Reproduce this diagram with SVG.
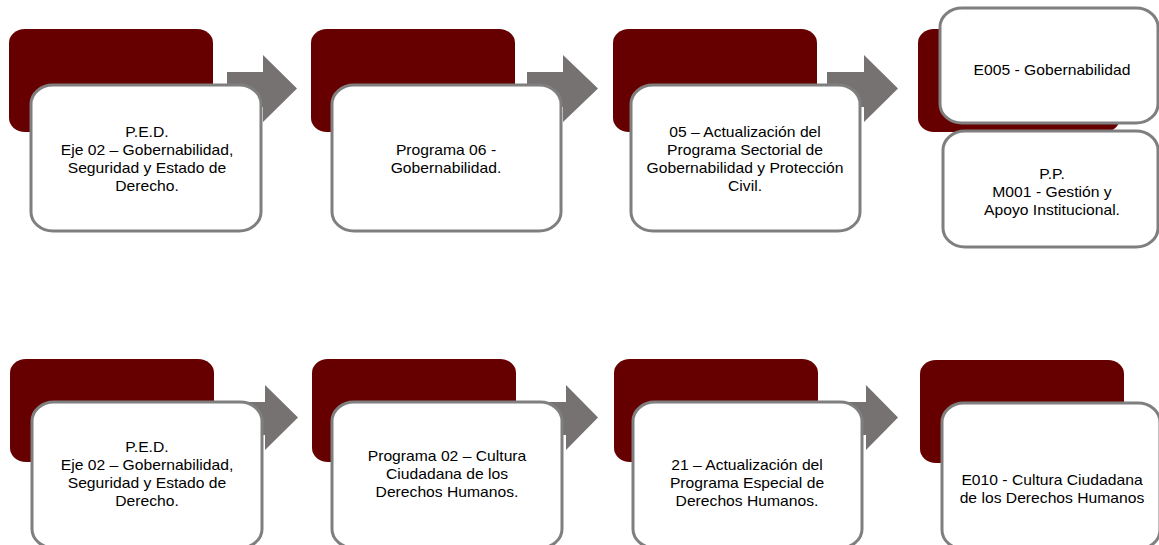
<svg xmlns="http://www.w3.org/2000/svg" width="1159" height="545" viewBox="0 0 1159 545">
<style>
.dark{fill:#660000;}
.box{fill:#ffffff;stroke:#7f7f7f;stroke-width:3;}
.arr{fill:#777272;}
.t{font-family:"Liberation Sans",Arial,sans-serif;font-size:14px;fill:#000000;text-anchor:middle;}
</style>
<rect width="1159" height="545" fill="#ffffff"/>
<g id="connectors">
<polygon class="arr" points="227,72 263,72 263,55 297,88.5 263,122 263,107 227,107"/>
<polygon class="arr" points="527,72 563,72 563,55 598,88.5 563,122 563,107 527,107"/>
<polygon class="arr" points="827,72 864,72 864,55 898,88.5 864,122 864,107 827,107"/>
<polygon class="arr" points="229,402 265,402 265,385 298,417.5 265,450 265,435 229,435"/>
<polygon class="arr" points="530,402 566,402 566,385 598,417.5 566,450 566,435 530,435"/>
<polygon class="arr" points="828,402 866,402 866,385 898,417.5 866,450 866,435 828,435"/>
</g>
<g id="n1">
<rect class="dark" x="9" y="29" width="204" height="103" rx="16" ry="14"/>
<rect class="box" x="31" y="85" width="230" height="146" rx="22" ry="19"/>
<text class="t" transform="translate(147,0) scale(1.12,1)"><tspan x="0" y="137">P.E.D.</tspan><tspan x="0" y="155">Eje 02 – Gobernabilidad,</tspan><tspan x="0" y="173">Seguridad y Estado de</tspan><tspan x="0" y="191">Derecho.</tspan></text>
</g>
<g id="n2">
<rect class="dark" x="311" y="29" width="204" height="103" rx="16" ry="14"/>
<rect class="box" x="332" y="85" width="229" height="146" rx="22" ry="19"/>
<text class="t" transform="translate(446,0) scale(1.12,1)"><tspan x="0" y="155">Programa 06 -</tspan><tspan x="0" y="173">Gobernabilidad.</tspan></text>
</g>
<g id="n3">
<rect class="dark" x="613" y="29" width="204" height="103" rx="16" ry="14"/>
<rect class="box" x="631" y="85" width="229" height="146" rx="22" ry="19"/>
<text class="t" transform="translate(745,0) scale(1.12,1)"><tspan x="0" y="137">05 – Actualización del</tspan><tspan x="0" y="155">Programa Sectorial de</tspan><tspan x="0" y="173">Gobernabilidad y Protección</tspan><tspan x="0" y="191">Civil.</tspan></text>
</g>
<g id="n4">
<rect class="dark" x="918" y="29" width="202" height="103" rx="16" ry="14"/>
<rect class="box" x="940" y="8" width="218" height="115" rx="22" ry="19"/>
<text class="t" transform="translate(1052,0) scale(1.12,1)"><tspan x="0" y="75">E005 - Gobernabilidad</tspan></text>
</g>
<g id="n5">
<rect class="box" x="943" y="131" width="215" height="116" rx="22" ry="19"/>
<text class="t" transform="translate(1052,0) scale(1.12,1)"><tspan x="0" y="179">P.P.</tspan><tspan x="0" y="197">M001 - Gestión y</tspan><tspan x="0" y="215">Apoyo Institucional.</tspan></text>
</g>
<g id="n6">
<rect class="dark" x="10" y="359" width="204" height="103" rx="16" ry="14"/>
<rect class="box" x="32" y="402" width="230" height="146" rx="22" ry="19"/>
<text class="t" transform="translate(147,0) scale(1.12,1)"><tspan x="0" y="452">P.E.D.</tspan><tspan x="0" y="470">Eje 02 – Gobernabilidad,</tspan><tspan x="0" y="488">Seguridad y Estado de</tspan><tspan x="0" y="506">Derecho.</tspan></text>
</g>
<g id="n7">
<rect class="dark" x="312" y="359" width="204" height="103" rx="16" ry="14"/>
<rect class="box" x="332" y="402" width="230" height="146" rx="22" ry="19"/>
<text class="t" transform="translate(447,0) scale(1.12,1)"><tspan x="0" y="461">Programa 02 – Cultura</tspan><tspan x="0" y="479">Ciudadana de los</tspan><tspan x="0" y="497">Derechos Humanos.</tspan></text>
</g>
<g id="n8">
<rect class="dark" x="614" y="359" width="204" height="103" rx="16" ry="14"/>
<rect class="box" x="633" y="402" width="229" height="146" rx="22" ry="19"/>
<text class="t" transform="translate(747,0) scale(1.12,1)"><tspan x="0" y="470">21 – Actualización del</tspan><tspan x="0" y="488">Programa Especial de</tspan><tspan x="0" y="506">Derechos Humanos.</tspan></text>
</g>
<g id="n9">
<rect class="dark" x="920" y="360" width="204" height="103" rx="16" ry="14"/>
<rect class="box" x="942" y="403" width="218" height="146" rx="22" ry="19"/>
<text class="t" transform="translate(1052,0) scale(1.12,1)"><tspan x="0" y="485">E010 - Cultura Ciudadana</tspan><tspan x="0" y="503">de los Derechos Humanos</tspan></text>
</g>
</svg>
